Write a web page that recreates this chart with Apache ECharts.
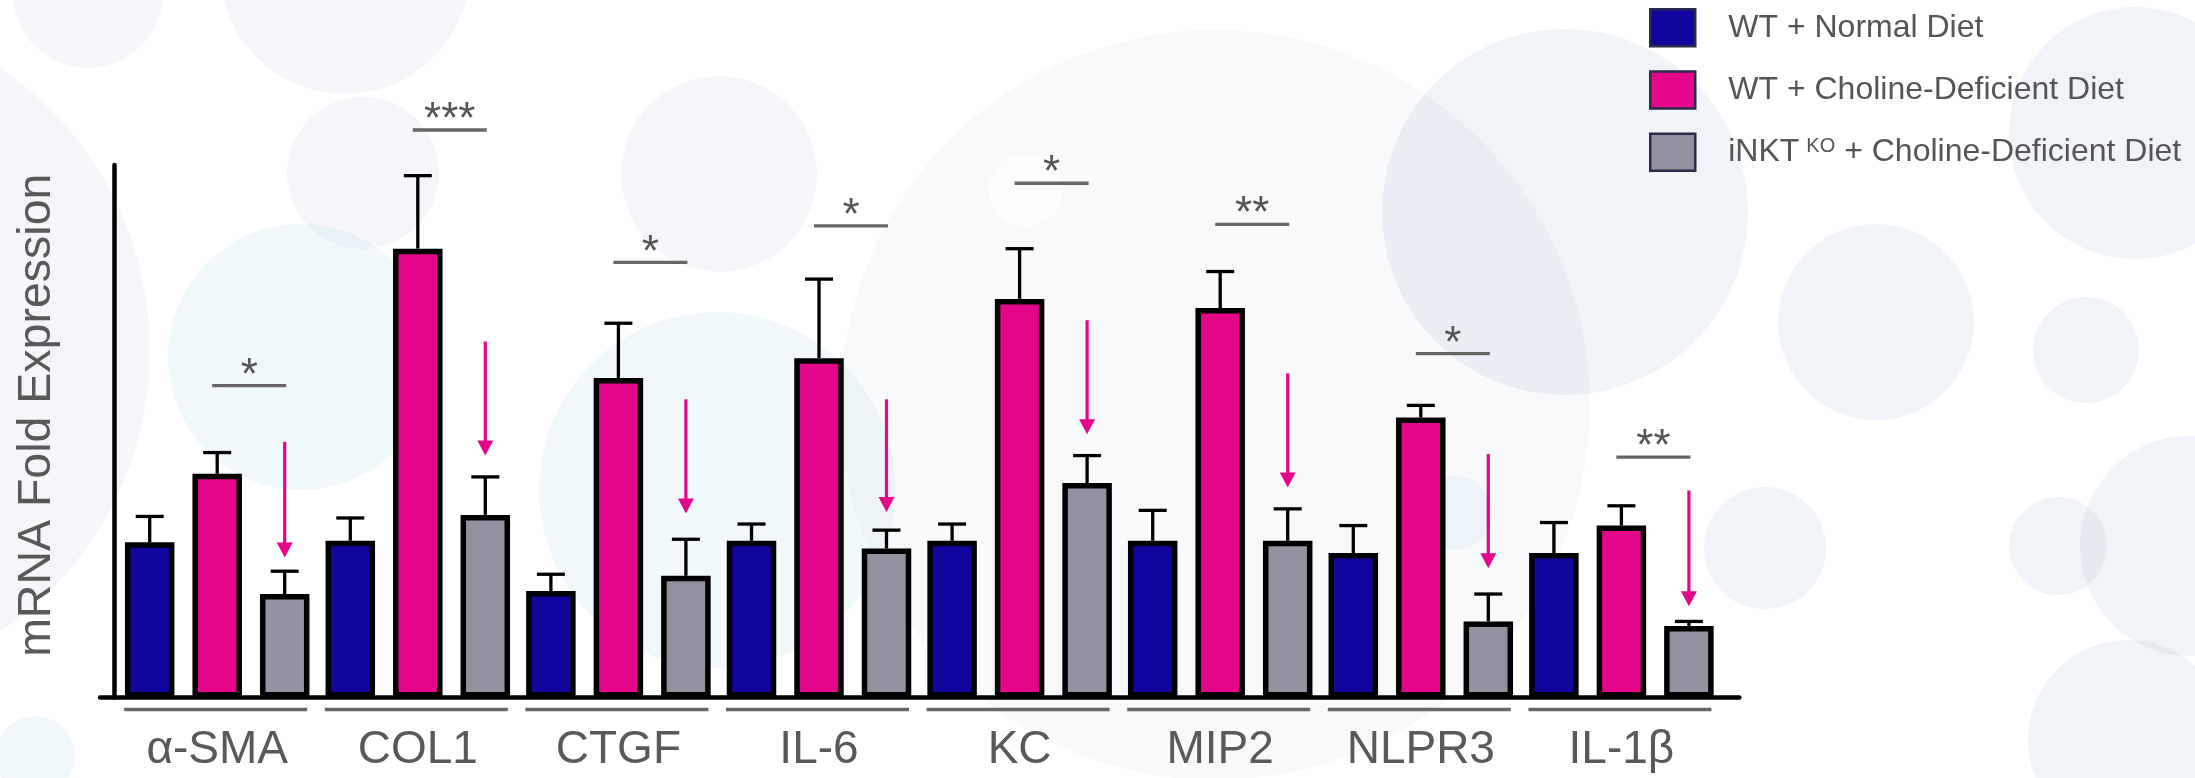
<!DOCTYPE html>
<html>
<head>
<meta charset="utf-8">
<title>mRNA Fold Expression</title>
<script src="https://cdn.jsdelivr.net/npm/echarts@6/dist/echarts.min.js"></script>
<style>
  html, body { margin: 0; padding: 0; background: #ffffff; }
  #chart { width: 2195px; height: 778px; }
</style>
</head>
<body>
<div id="chart"></div>
<script>
// Genes measured
const categories = ['α-SMA', 'COL1', 'CTGF', 'IL-6', 'KC', 'MIP2', 'NLPR3', 'IL-1β'];

// Group names
const groupNames = ['WT + Normal Diet', 'WT + Choline-Deficient Diet', 'iNKT KO + Choline-Deficient Diet'];

// Mean fold expression and SEM per group
const normalDiet    = [1.02, 1.03, 0.70, 1.03, 1.03, 1.03, 0.95, 0.95];
const normalDietErr = [0.17, 0.15, 0.11, 0.11, 0.11, 0.20, 0.18, 0.20];
const cdDiet        = [1.47, 2.95, 2.10, 2.23, 2.62, 2.56, 1.84, 1.13];
const cdDietErr     = [0.14, 0.48, 0.36, 0.52, 0.33, 0.24, 0.08, 0.13];
const koCdDiet      = [0.68, 1.20, 0.80, 0.98, 1.41, 1.03, 0.50, 0.47];
const koCdDietErr   = [0.15, 0.25, 0.24, 0.12, 0.18, 0.21, 0.18, 0.03];

// Significance (WT vs iNKT KO on choline-deficient diet)
const significance = ['*', '***', '*', '*', '*', '**', '*', '**'];
const sigLevel     = [2.05, 3.73, 2.86, 3.10, 3.38, 3.11, 2.26, 1.58];

// Downward arrows over the knockout bars (start and end in fold units)
const arrowFrom = [1.68, 2.34, 1.96, 1.96, 2.48, 2.13, 1.60, 1.36];
const arrowTo   = [0.92, 1.59, 1.21, 1.22, 1.73, 1.38, 0.85, 0.60];

// Styling
const COLORS = ['#10069e', '#e4068a', '#93919f'];
const BAR_WIDTH = 49.5;
const BAR_PITCH = 67.5;
const BAR_GAP = (BAR_PITCH - BAR_WIDTH) / BAR_WIDTH;
const TEXT_GRAY = '#595959';
const FONT = '"Liberation Sans", Arial, Helvetica, sans-serif';

const chart = echarts.init(document.getElementById('chart'), null, { renderer: 'canvas' });

// Decorative background bubbles
const GRAY_SOFT = 'rgba(200,212,226,0.2)';
const GRAY_MID = 'rgba(200,212,226,0.28)';
const BLUE_SOFT = 'rgba(196,226,240,0.24)';
const bubbles = [
  [88, -7, 75, GRAY_SOFT],
  [345, -31, 125, GRAY_SOFT],
  [363, 173, 76, GRAY_SOFT],
  [-190, 350, 340, GRAY_SOFT],
  [301, 357, 133, BLUE_SOFT],
  [717, 490, 178, BLUE_SOFT],
  [1215, 405, 375, 'rgba(200,212,226,0.15)'],
  [719, 174, 98, GRAY_SOFT],
  [1026, 190, 37, 'rgba(255,255,255,0.6)'],
  [1565, 212, 183, GRAY_MID],
  [1876, 322, 98, GRAY_MID],
  [2086, 350, 53, GRAY_MID],
  [2058, 546, 49, GRAY_MID],
  [2135, 133, 126, GRAY_MID],
  [2190, 546, 110, GRAY_MID],
  [2128, 740, 100, GRAY_MID],
  [35, 756, 40, BLUE_SOFT],
  [1455, 513, 37, BLUE_SOFT],
  [1765, 548, 61, GRAY_MID]
];
const bubbleElements = bubbles.map(b => ({
  type: 'circle',
  shape: { cx: b[0], cy: b[1], r: b[2] },
  style: { fill: b[3] },
  z: -100,
  silent: true
}));

// Bar series
const barValues = [normalDiet, cdDiet, koCdDiet];
const errValues = [normalDietErr, cdDietErr, koCdDietErr];
const barSeries = groupNames.map((name, k) => ({
  name: name,
  type: 'bar',
  xAxisIndex: 0,
  yAxisIndex: 0,
  barWidth: BAR_WIDTH,
  barGap: (BAR_GAP * 100) + '%',
  data: barValues[k],
  itemStyle: { color: COLORS[k], borderColor: '#000', borderWidth: 5.5 },
  z: 2
}));

// Error bars (upper whisker only)
const errData = [];
for (let k = 0; k < 3; k++) {
  for (let i = 0; i < categories.length; i++) {
    errData.push([i, barValues[k][i], errValues[k][i], k]);
  }
}
const errorSeries = {
  type: 'custom',
  name: 'error',
  xAxisIndex: 0,
  yAxisIndex: 0,
  data: errData,
  encode: { x: 0, y: 1 },
  z: 3,
  silent: true,
  renderItem: function (params, api) {
    const i = api.value(0), v = api.value(1), e = api.value(2), k = api.value(3);
    const base = api.coord([i, v]);
    const top = api.coord([i, v + e]);
    const x = base[0] + (k - 1) * BAR_PITCH;
    const stroke = { stroke: '#000', lineWidth: 3.3 };
    return {
      type: 'group',
      children: [
        { type: 'line', shape: { x1: x, y1: base[1], x2: x, y2: top[1] }, style: stroke },
        { type: 'line', shape: { x1: x - 14, y1: top[1], x2: x + 14, y2: top[1] }, style: stroke }
      ]
    };
  }
};

// Significance bars, stars and arrows
const annoData = categories.map((c, i) => [i, sigLevel[i], arrowFrom[i], arrowTo[i]]);
const annotationSeries = {
  type: 'custom',
  name: 'annotations',
  xAxisIndex: 0,
  yAxisIndex: 0,
  data: annoData,
  encode: { x: 0, y: 1 },
  z: 4,
  silent: true,
  renderItem: function (params, api) {
    const i = api.value(0);
    const sig = api.coord([i, api.value(1)]);
    const a1 = api.coord([i, api.value(2)]);
    const a2 = api.coord([i, api.value(3)]);
    const cx = sig[0];
    const ax = cx + BAR_PITCH;
    const headH = 15, headW = 8;
    return {
      type: 'group',
      children: [
        { type: 'line', shape: { x1: cx - 5, y1: sig[1], x2: cx + 69, y2: sig[1] },
          style: { stroke: '#666666', lineWidth: 3.4 } },
        { type: 'text', x: cx + 32, y: sig[1] - 9,
          style: { text: significance[i], fill: '#555555', fontSize: 44, fontFamily: FONT,
                   align: 'center', verticalAlign: 'middle' } },
        { type: 'line', shape: { x1: ax, y1: a1[1], x2: ax, y2: a2[1] - headH + 2 },
          style: { stroke: '#e4068a', lineWidth: 3.2 } },
        { type: 'polygon', shape: { points: [[ax - headW, a2[1] - headH], [ax + headW, a2[1] - headH], [ax, a2[1]]] },
          style: { fill: '#e4068a' } }
      ]
    };
  }
};

// Gray rule under each gene group
const ruleSeries = {
  type: 'custom',
  name: 'groupRule',
  xAxisIndex: 0,
  yAxisIndex: 0,
  data: categories.map((c, i) => [i, 0]),
  encode: { x: 0, y: 1 },
  z: 4,
  silent: true,
  renderItem: function (params, api) {
    const p = api.coord([api.value(0), 0]);
    return {
      type: 'line',
      shape: { x1: p[0] - 93, y1: p[1] + 12, x2: p[0] + 90, y2: p[1] + 12 },
      style: { stroke: '#666666', lineWidth: 3.4 }
    };
  }
};

const legendRich = {
  t: { fontSize: 32, color: '#555555', fontFamily: FONT },
  tp: { fontSize: 32, color: '#555555', fontFamily: FONT, padding: [0, 0, 0, 28] },
  s: { fontSize: 20, color: '#555555', fontFamily: FONT, verticalAlign: 'top', padding: [0, 0, 0, 7] }
};

const option = {
  backgroundColor: '#ffffff',
  animation: false,
  graphic: { elements: bubbleElements },
  legend: {
    data: groupNames,
    orient: 'vertical',
    left: 1649,
    top: 8,
    padding: 0,
    itemWidth: 45,
    itemHeight: 37,
    itemGap: 22.7,
    icon: 'rect',
    itemStyle: { borderColor: '#2b2b4d', borderWidth: 2.5 },
    selectedMode: false,
    textStyle: { rich: legendRich },
    formatter: function (name) {
      if (name.indexOf('iNKT KO') === 0) {
        return '{tp|iNKT}{s|KO}{t| + Choline-Deficient Diet}';
      }
      return '{tp|' + name + '}';
    }
  },
  grid: [
    { left: 116.9, right: 473.3, top: 165, bottom: 80.5, containLabel: false },
    { left: 100, right: 455.7, top: 165, bottom: 80.5, containLabel: false }
  ],
  xAxis: [
    {
      type: 'category',
      gridIndex: 0,
      data: categories,
      axisLine: { show: false },
      axisTick: { show: false },
      axisLabel: { fontSize: 46, color: TEXT_GRAY, fontFamily: FONT, margin: 30, interval: 0 },
      splitLine: { show: false }
    },
    {
      type: 'value',
      gridIndex: 1,
      min: 0,
      max: 1,
      axisLine: { show: true, lineStyle: { color: '#000', width: 4.5 } },
      axisTick: { show: false },
      axisLabel: { show: false },
      splitLine: { show: false }
    }
  ],
  yAxis: [
    {
      type: 'value',
      gridIndex: 0,
      min: 0,
      max: 3.5,
      offset: 3,
      axisLine: { show: true, lineStyle: { color: '#000', width: 4.5 } },
      axisTick: { show: false },
      axisLabel: { show: false },
      splitLine: { show: false },
      name: 'mRNA Fold Expression',
      nameLocation: 'middle',
      nameRotate: 90,
      nameGap: 53,
      nameTextStyle: { fontSize: 46.5, color: TEXT_GRAY, fontFamily: FONT, padding: [0, 0, 0, 32] }
    },
    {
      type: 'value',
      gridIndex: 1,
      show: false,
      min: 0,
      max: 1
    }
  ],
  series: barSeries.concat([errorSeries, annotationSeries, ruleSeries])
};

chart.setOption(option);
</script>
</body>
</html>
